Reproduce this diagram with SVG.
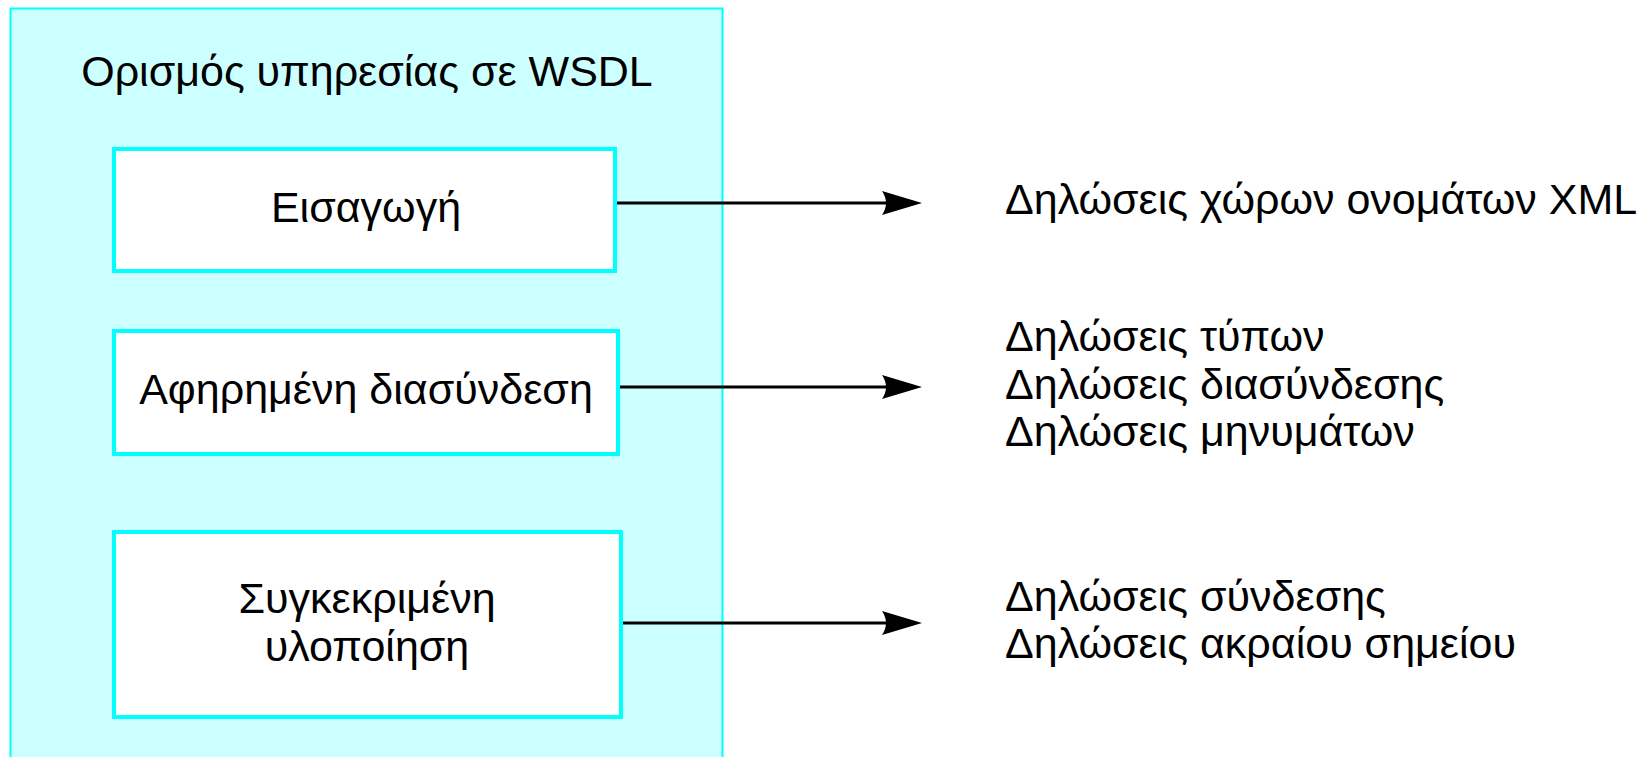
<svg xmlns="http://www.w3.org/2000/svg" width="1649" height="757" viewBox="0 0 1649 757">
<style>
  .t { font-family: "Liberation Sans", Arial, sans-serif; font-size: 43px; fill: #000; }
  .c { text-anchor: middle; }
  .box { fill: #ffffff; stroke: #00ffff; stroke-width: 4; }
  .panel { fill: #ccffff; stroke: #00ffff; stroke-width: 2; }
  .conn { stroke: #000; stroke-width: 3; fill: none; }
</style>
<defs>
  <marker id="arr" markerUnits="userSpaceOnUse" viewBox="0 0 40 26" markerWidth="40" markerHeight="26" refX="8" refY="13" orient="auto">
    <path d="M0,1 L40,13 L0,25 Q8,13 0,1 Z" fill="#000"/>
  </marker>
</defs>
<rect width="1649" height="757" fill="#ffffff"/>
<g id="panel">
  <rect class="panel" x="10.5" y="8.5" width="712" height="760"/>
  <text class="t c" x="367" y="86">Ορισμός υπηρεσίας σε WSDL</text>
</g>
<g id="node-eisagogi">
  <rect class="box" x="114" y="149" width="501" height="122"/>
  <text class="t c" x="366" y="222">Εισαγωγή</text>
</g>
<g id="node-afirimeni">
  <rect class="box" x="114" y="331" width="504" height="123"/>
  <text class="t c" x="366" y="404">Αφηρημένη διασύνδεση</text>
</g>
<g id="node-sygkekrimeni">
  <rect class="box" x="114" y="532" width="507" height="185"/>
  <text class="t c" x="367" y="613">Συγκεκριμένη</text>
  <text class="t c" x="367" y="661">υλοποίηση</text>
</g>
<g id="connectors">
  <path class="conn" d="M617,203 H890" marker-end="url(#arr)"/>
  <path class="conn" d="M620,387 H890" marker-end="url(#arr)"/>
  <path class="conn" d="M623,623 H890" marker-end="url(#arr)"/>
</g>
<g id="label-namespaces">
  <text class="t" x="1005" y="214">Δηλώσεις χώρων ονομάτων XML</text>
</g>
<g id="label-abstract">
  <text class="t" x="1005" y="351">Δηλώσεις τύπων</text>
  <text class="t" x="1005" y="399">Δηλώσεις διασύνδεσης</text>
  <text class="t" x="1005" y="446">Δηλώσεις μηνυμάτων</text>
</g>
<g id="label-concrete">
  <text class="t" x="1005" y="611">Δηλώσεις σύνδεσης</text>
  <text class="t" x="1005" y="658">Δηλώσεις ακραίου σημείου</text>
</g>
</svg>
